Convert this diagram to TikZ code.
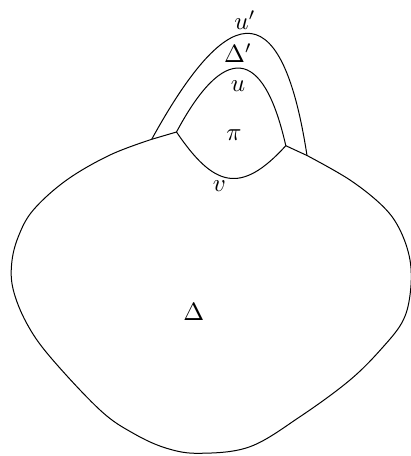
\documentclass[tikz,border=0pt]{standalone}
\usepackage{amsmath}
\usepackage{tikz}

\begin{document}
\begin{tikzpicture}[x=0.4pt, y=0.4pt]
    \useasboundingbox (0,0) rectangle (411,456);

    % 1. PUNTS D'UNIO
    \coordinate (A) at (151.7,316.7);
    \coordinate (B) at (176.5,324);
    \coordinate (C) at (285.8,310.3);
    \coordinate (D) at (307,300.5);

    % 2. REGIO GRAN (Delta)
    \draw plot[smooth, tension=0.6] coordinates {
        (A) (110,301) (66.7,276) (33.3,246) (18.3,219.3) (11.7,192.7)
        (13.3,166) (26.7,132.7) (50,99.3) (100,46) (133.3,22.7) (166.7,7.7)
        (200,2.7) (250,9.3) (300,39.3) (350,76) (383.3,109.3) (403.3,136)
        (410.5,165) (410,196) (400,226) (383.3,249.3) (350,276) (D)
    };
    \draw (A) -- (B);
    \draw (C) -- (D);

    % 3. CEL.LA PI
    \draw (B) .. controls (223.1,411.2) and (262.9,411.7) .. (C);
    \draw (B) .. controls (213.5,269.5) and (240.4,260.3) .. (C);

    % 4. CEL.LA DELTA'
    \draw (A) .. controls (223,446.3) and (280.2,475) .. (D);

    % 5. ETIQUETES
    \node[anchor=base] (uprime) at (245,426.7) {$u'$};
    \node[anchor=base] (deltaprime) at (238,393.3) {$\Delta'$};
    \node[anchor=base] (u) at (238,364.3) {$u$};
    \node[anchor=base] (pi) at (234,316) {$\pi$};
    \node[anchor=base] (v) at (219.5,264.3) {$v$};
    \node[anchor=base] (delta) at (193.7,136) {$\Delta$};

\end{tikzpicture}
\end{document}
